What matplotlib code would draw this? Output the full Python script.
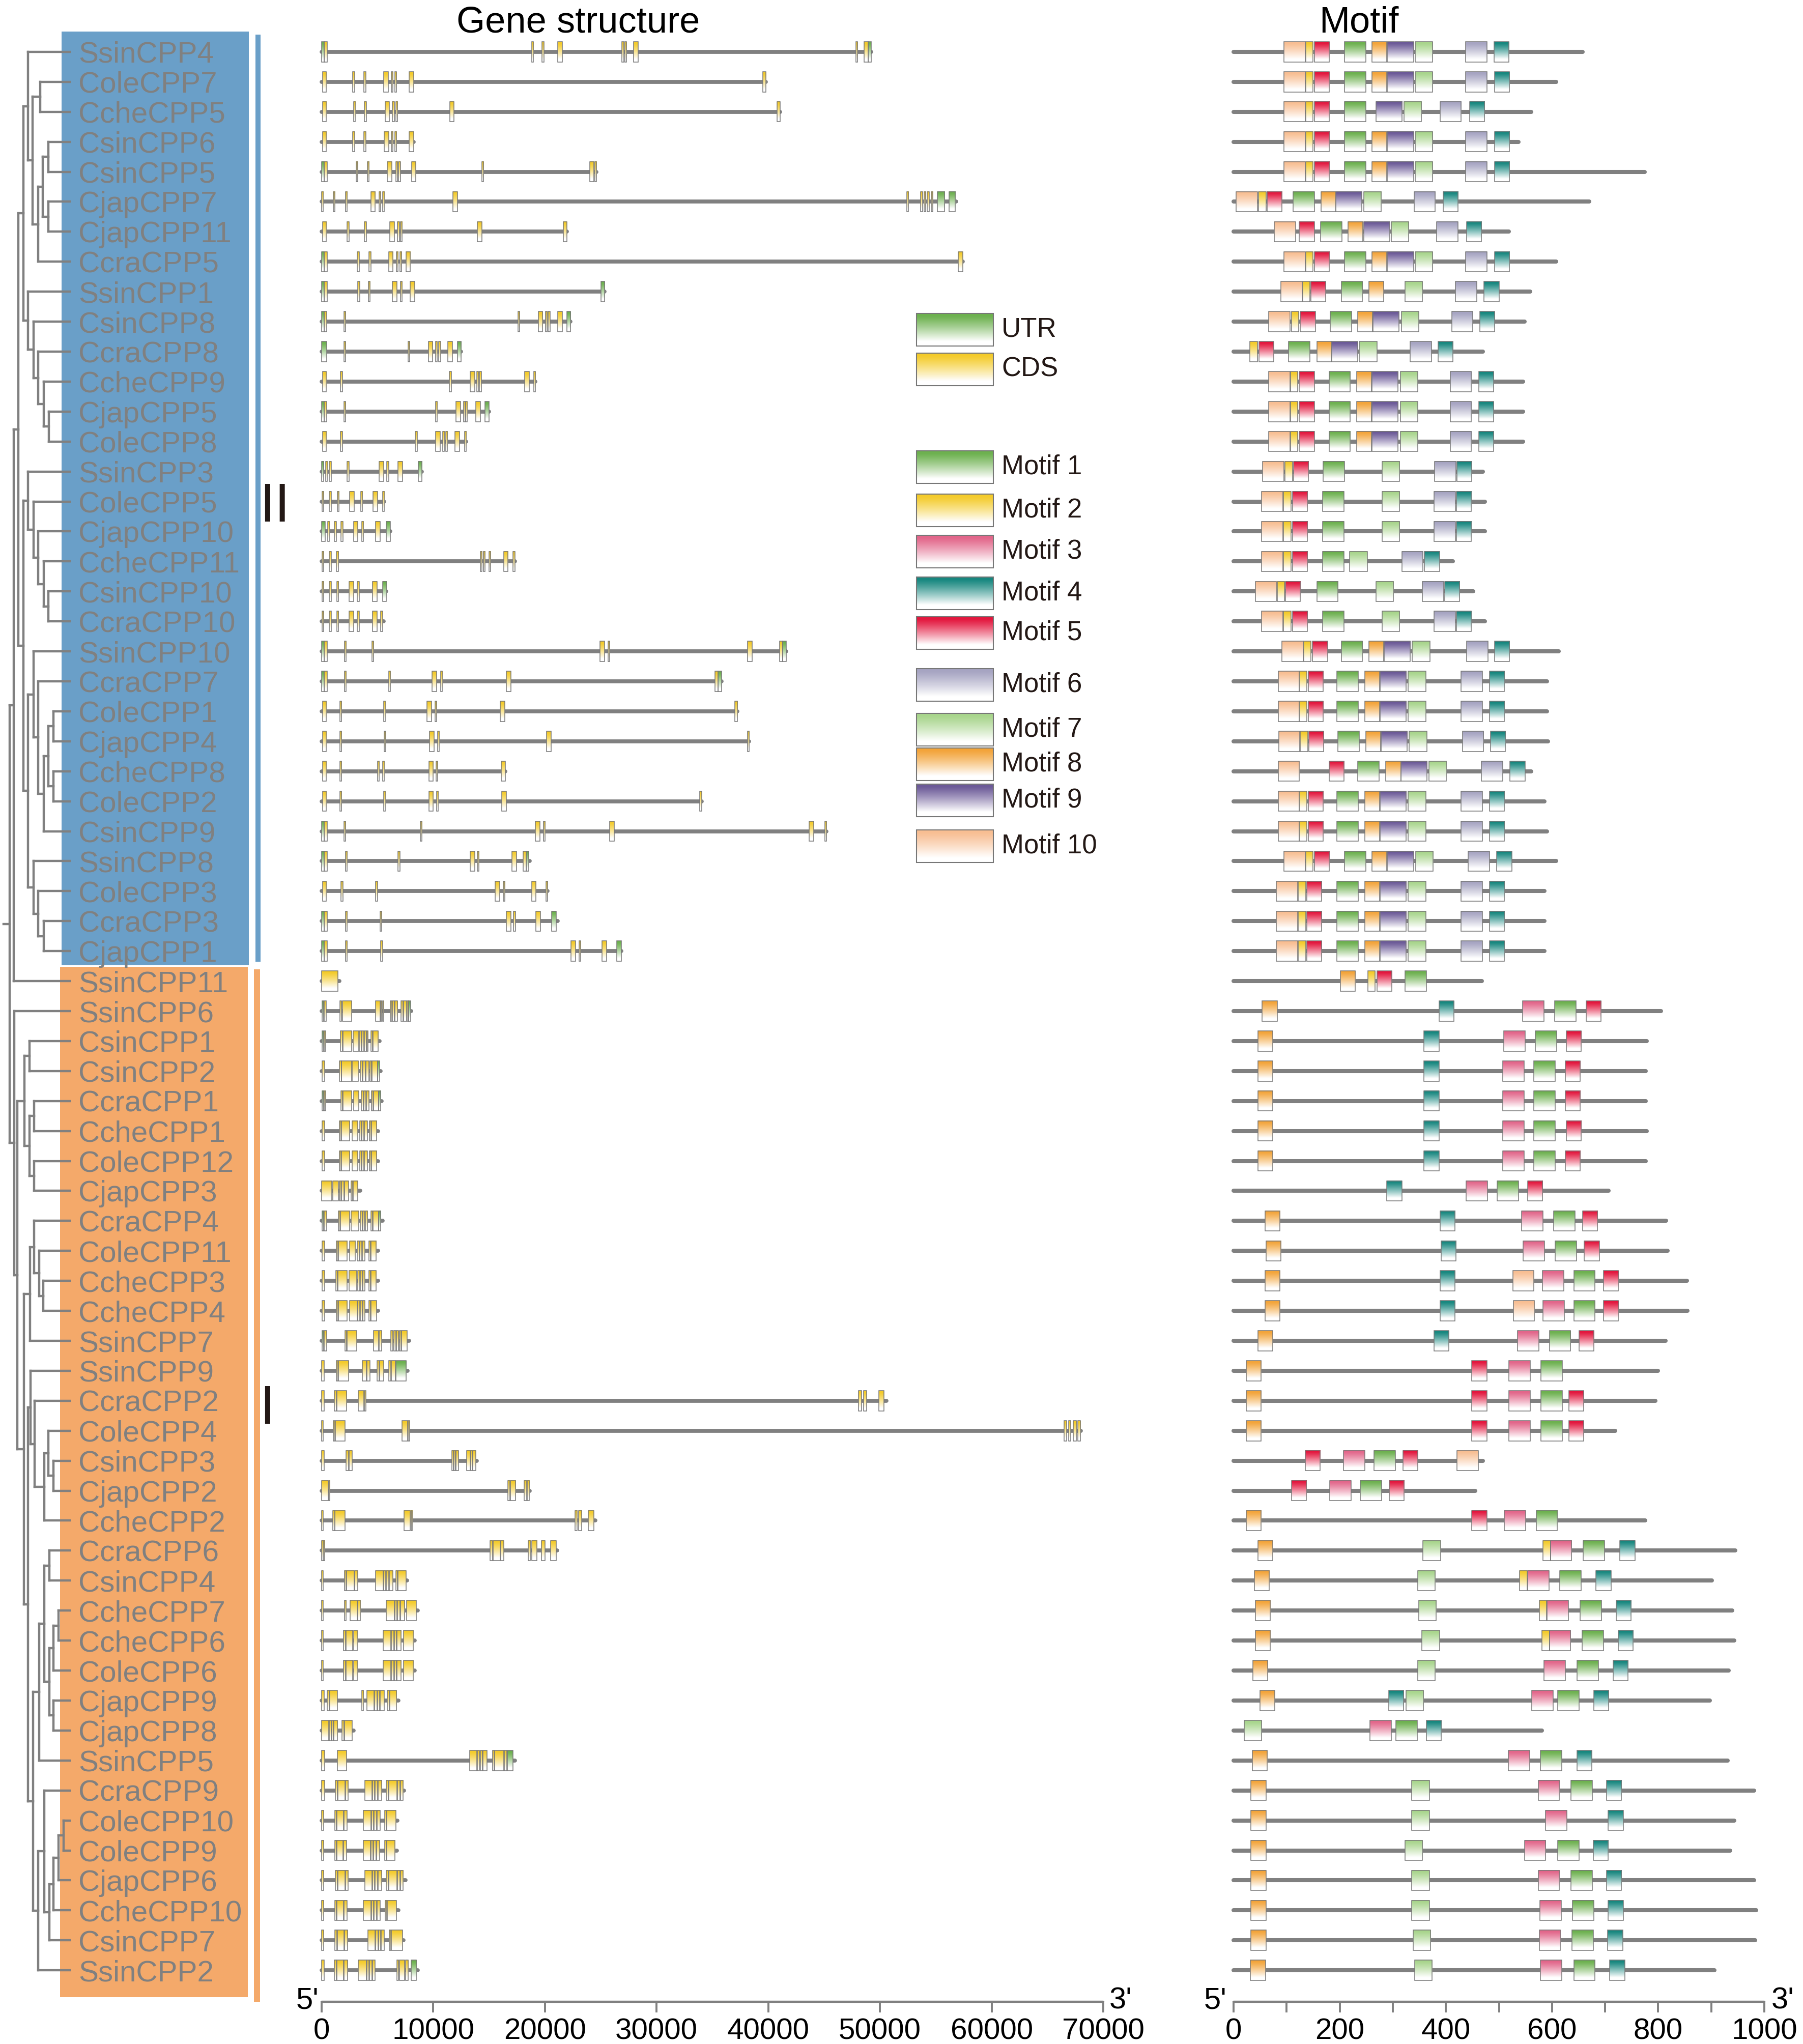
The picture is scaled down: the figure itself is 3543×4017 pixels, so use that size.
import numpy as np
import matplotlib
matplotlib.use("Agg")
import matplotlib.pyplot as plt
from matplotlib.patches import Rectangle
from matplotlib.collections import LineCollection
from matplotlib.colors import to_rgb
from matplotlib.ticker import MultipleLocator, FixedLocator

plt.rcParams['font.family'] = ['Liberation Sans', 'DejaVu Sans']

# ------------------------------------------------------------------ data
GENES = ["SsinCPP4", "ColeCPP7", "CcheCPP5", "CsinCPP6", "CsinCPP5", "CjapCPP7", "CjapCPP11",
         "CcraCPP5", "SsinCPP1", "CsinCPP8", "CcraCPP8", "CcheCPP9", "CjapCPP5", "ColeCPP8",
         "SsinCPP3", "ColeCPP5", "CjapCPP10", "CcheCPP11", "CsinCPP10", "CcraCPP10", "SsinCPP10",
         "CcraCPP7", "ColeCPP1", "CjapCPP4", "CcheCPP8", "ColeCPP2", "CsinCPP9", "SsinCPP8",
         "ColeCPP3", "CcraCPP3", "CjapCPP1",
         "SsinCPP11", "SsinCPP6", "CsinCPP1", "CsinCPP2", "CcraCPP1", "CcheCPP1", "ColeCPP12",
         "CjapCPP3", "CcraCPP4", "ColeCPP11", "CcheCPP3", "CcheCPP4", "SsinCPP7", "SsinCPP9",
         "CcraCPP2", "ColeCPP4", "CsinCPP3", "CjapCPP2", "CcheCPP2", "CcraCPP6", "CsinCPP4",
         "CcheCPP7", "CcheCPP6", "ColeCPP6", "CjapCPP9", "CjapCPP8", "SsinCPP5", "CcraCPP9",
         "ColeCPP10", "ColeCPP9", "CjapCPP6", "CcheCPP10", "CsinCPP7", "SsinCPP2"]
N_CLADE_II = 31
CLADE_LABELS = ["II", "I"]

# tree pieces: numbers after ')' are the horizontal positions of internal nodes
T_A = "(SsinCPP4,((ColeCPP7,CcheCPP5)79,(((CsinCPP6,CsinCPP5)95,(CjapCPP7,CjapCPP11)95)84,CcraCPP5)75)64)55"
T_B = "(SsinCPP1,(CsinCPP8,(CcraCPP8,(CcheCPP9,(CjapCPP5,ColeCPP8)96)86)75)66)55"
T_C = "(SsinCPP3,(ColeCPP5,(CjapCPP10,(CcheCPP11,(CsinCPP10,CcraCPP10)95)86)75)66)55"
T_D1 = "(SsinCPP10,(CcraCPP7,(((ColeCPP1,CjapCPP4)105,(CcheCPP8,ColeCPP2)105)95,CsinCPP9)86)75)66"
T_D2 = "(SsinCPP8,(ColeCPP3,(CcraCPP3,CjapCPP1)86)75)66"
T_Z1 = "((CsinCPP1,CsinCPP2)58,((CcraCPP1,CcheCPP1)67,(ColeCPP12,CjapCPP3)67)58)48"
T_E = "((CcraCPP4,(ColeCPP11,(CcheCPP3,CcheCPP4)85)77)67,SsinCPP7)59"
T_W1 = "(SsinCPP9,(CcraCPP2,((ColeCPP4,(CsinCPP3,CjapCPP2)105)95,CcheCPP2)87)68)60"
T_W2A = "(((CcraCPP6,CsinCPP4)97,(((CcheCPP7,CcheCPP6)115,ColeCPP6)105,(CjapCPP9,CjapCPP8)105)97)87,SsinCPP5)77"
T_W2B = "((CcraCPP9,((((ColeCPP10,ColeCPP9)125,CjapCPP6)115,CcheCPP10)105,CsinCPP7)97)87,SsinCPP2)75"
T_II = "((" + T_A + "," + T_B + ")46,(" + T_C + ",(" + T_D1 + "," + T_D2 + ")55)46)36"
T_I = ("(SsinCPP6,(" + T_Z1 + ",(" + T_E + ",(" + T_W1 + ",(" + T_W2A + "," + T_W2B + ")65)55)47)34)28")
TREE = "((" + T_II + ",SsinCPP11)27," + T_I + ")19"
TREE_LEAF_X = 137
TREE_ROOT_STUB = 7

GENE_LEN = [49200, 39800, 41050, 8250, 24600, 56850, 21950, 57400, 25350, 22300, 12500, 19150, 15000,
            12950, 9000, 5600, 6150, 17300, 5800, 5550, 41600, 35800, 37250, 38300, 16450, 34050, 45200,
            18650, 20250, 21150, 26850,
            1600, 8000, 5200, 5300, 5400, 5050, 5050, 3450, 5450, 5050, 5050, 5050, 7850, 7700, 50600,
            68000, 13900, 18650, 24500, 21100, 7650, 8600, 8350, 8350, 6900, 2850, 17300, 7400, 6800,
            6750, 7500, 6900, 7350, 8600]

EXONS = [
    [(0, 250, 'U'), (250, 520, 'C'), (18800, 18950, 'C'), (19750, 19900, 'C'), (21150, 21550, 'C'), (26900, 27050, 'C'), (27150, 27300, 'C'), (27950, 28350, 'C'), (47850, 48000, 'C'), (48600, 48950, 'C'), (48950, 49200, 'U')],
    [(80, 400, 'C'), (2800, 2950, 'C'), (3800, 3950, 'C'), (5550, 5950, 'C'), (6250, 6400, 'C'), (6550, 6700, 'C'), (7850, 8250, 'C'), (39500, 39800, 'C')],
    [(80, 400, 'C'), (2850, 3000, 'C'), (3850, 4000, 'C'), (5700, 6050, 'C'), (6350, 6500, 'C'), (6650, 6800, 'C'), (11500, 11850, 'C'), (40800, 41050, 'C')],
    [(80, 400, 'C'), (2800, 2950, 'C'), (3800, 3950, 'C'), (5600, 6000, 'C'), (6250, 6400, 'C'), (6550, 6700, 'C'), (7850, 8250, 'C')],
    [(0, 250, 'U'), (250, 520, 'C'), (3100, 3250, 'C'), (4100, 4250, 'C'), (5900, 6300, 'C'), (6650, 6800, 'C'), (6900, 7050, 'C'), (8050, 8450, 'C'), (14350, 14500, 'C'), (24000, 24400, 'C'), (24450, 24600, 'C')],
    [(0, 150, 'C'), (1050, 1200, 'C'), (2150, 2300, 'C'), (4400, 4800, 'C'), (5150, 5300, 'C'), (5450, 5600, 'C'), (11750, 12150, 'C'), (52400, 52550, 'C'), (53650, 53800, 'C'), (53950, 54100, 'C'), (54250, 54400, 'C'), (54600, 54750, 'C'), (55150, 55800, 'U'), (56200, 56750, 'U')],
    [(80, 400, 'C'), (2300, 2450, 'C'), (3850, 4000, 'C'), (6100, 6500, 'C'), (6800, 6950, 'C'), (7050, 7200, 'C'), (13950, 14350, 'C'), (21650, 21950, 'C')],
    [(0, 250, 'U'), (250, 520, 'C'), (3200, 3350, 'C'), (4250, 4400, 'C'), (6000, 6400, 'C'), (6700, 6850, 'C'), (7000, 7150, 'C'), (7550, 7950, 'C'), (57000, 57400, 'C')],
    [(0, 250, 'U'), (250, 520, 'C'), (3250, 3400, 'C'), (4200, 4350, 'C'), (6350, 6750, 'C'), (7050, 7200, 'C'), (7950, 8350, 'C'), (25000, 25350, 'U')],
    [(0, 250, 'U'), (250, 450, 'C'), (2000, 2150, 'C'), (17600, 17750, 'C'), (19400, 19800, 'C'), (20050, 20200, 'C'), (20300, 20450, 'C'), (21150, 21550, 'C'), (21950, 22300, 'U')],
    [(0, 450, 'U'), (2000, 2150, 'C'), (7750, 7900, 'C'), (9550, 9950, 'C'), (10200, 10350, 'C'), (10500, 10650, 'C'), (11300, 11700, 'C'), (12150, 12500, 'U')],
    [(80, 400, 'C'), (1700, 1850, 'C'), (11450, 11600, 'C'), (13300, 13700, 'C'), (13900, 14050, 'C'), (14150, 14300, 'C'), (18200, 18600, 'C'), (19000, 19150, 'C')],
    [(0, 250, 'U'), (250, 450, 'C'), (2000, 2150, 'C'), (10200, 10350, 'C'), (12050, 12450, 'C'), (12700, 12850, 'C'), (12900, 13050, 'C'), (13800, 14200, 'C'), (14650, 15000, 'U')],
    [(80, 400, 'C'), (1700, 1850, 'C'), (8400, 8550, 'C'), (10200, 10600, 'C'), (10850, 11000, 'C'), (11100, 11250, 'C'), (11950, 12350, 'C'), (12800, 12950, 'C')],
    [(0, 200, 'U'), (350, 500, 'C'), (700, 850, 'C'), (2300, 2450, 'C'), (5150, 5550, 'C'), (5850, 6000, 'C'), (6850, 7250, 'C'), (8650, 9000, 'U')],
    [(50, 200, 'C'), (700, 850, 'C'), (1400, 1550, 'C'), (2500, 2900, 'C'), (3500, 3650, 'C'), (4600, 5000, 'C'), (5450, 5600, 'C')],
    [(0, 300, 'U'), (550, 700, 'C'), (1150, 1300, 'C'), (1750, 1900, 'C'), (2850, 3250, 'C'), (3600, 3750, 'C'), (4850, 5250, 'C'), (5800, 6150, 'U')],
    [(50, 200, 'C'), (700, 850, 'C'), (1300, 1500, 'C'), (14200, 14350, 'C'), (14500, 14650, 'C'), (15000, 15150, 'C'), (16300, 16700, 'C'), (17150, 17300, 'C')],
    [(50, 200, 'C'), (700, 850, 'C'), (1350, 1500, 'C'), (2450, 2850, 'C'), (3200, 3350, 'C'), (4550, 4950, 'C'), (5450, 5800, 'U')],
    [(50, 200, 'C'), (700, 850, 'C'), (1350, 1500, 'C'), (2450, 2850, 'C'), (3200, 3350, 'C'), (4550, 4950, 'C'), (5300, 5450, 'C')],
    [(0, 250, 'U'), (250, 520, 'C'), (2050, 2200, 'C'), (4500, 4650, 'C'), (24950, 25350, 'C'), (25650, 25800, 'C'), (38150, 38550, 'C'), (41000, 41300, 'C'), (41300, 41600, 'U')],
    [(0, 250, 'U'), (250, 520, 'C'), (2050, 2200, 'C'), (6000, 6150, 'C'), (9900, 10300, 'C'), (10650, 10800, 'C'), (16550, 16950, 'C'), (35250, 35500, 'C'), (35500, 35800, 'U')],
    [(80, 400, 'C'), (1650, 1800, 'C'), (5550, 5700, 'C'), (9450, 9850, 'C'), (10150, 10300, 'C'), (16000, 16400, 'C'), (37000, 37250, 'C')],
    [(80, 400, 'C'), (1650, 1800, 'C'), (5600, 5750, 'C'), (9650, 10050, 'C'), (10400, 10550, 'C'), (20150, 20550, 'C'), (38150, 38300, 'C')],
    [(80, 400, 'C'), (1650, 1800, 'C'), (5000, 5150, 'C'), (5450, 5600, 'C'), (9600, 10000, 'C'), (10250, 10400, 'C'), (16100, 16450, 'C')],
    [(80, 400, 'C'), (1650, 1800, 'C'), (5550, 5700, 'C'), (9600, 10000, 'C'), (10300, 10450, 'C'), (16150, 16550, 'C'), (33850, 34050, 'C')],
    [(0, 250, 'U'), (250, 520, 'C'), (2000, 2150, 'C'), (8850, 9000, 'C'), (19150, 19550, 'C'), (19850, 20000, 'C'), (25800, 26200, 'C'), (43650, 44050, 'C'), (45050, 45200, 'C')],
    [(0, 250, 'U'), (250, 520, 'C'), (2150, 2300, 'C'), (6850, 7000, 'C'), (13300, 13700, 'C'), (13950, 14100, 'C'), (17050, 17450, 'C'), (18050, 18300, 'C'), (18300, 18550, 'U')],
    [(80, 400, 'C'), (1750, 1900, 'C'), (4850, 5000, 'C'), (15550, 15950, 'C'), (16250, 16400, 'C'), (18800, 19200, 'C'), (20100, 20250, 'C')],
    [(0, 250, 'U'), (250, 520, 'C'), (2150, 2300, 'C'), (5250, 5400, 'C'), (16550, 16950, 'C'), (17200, 17350, 'C'), (19200, 19600, 'C'), (20600, 21000, 'U')],
    [(0, 250, 'U'), (250, 520, 'C'), (2150, 2300, 'C'), (5300, 5450, 'C'), (22350, 22750, 'C'), (23050, 23200, 'C'), (25100, 25500, 'C'), (26450, 26850, 'U')],
    # clade I
    [(0, 1450, 'C')],
    [(50, 200, 'U'), (230, 400, 'C'), (1650, 1800, 'C'), (1850, 2700, 'C'), (4850, 5250, 'C'), (5300, 5400, 'C'), (5450, 5560, 'C'), (6150, 6300, 'C'), (6350, 6500, 'C'), (6550, 6800, 'C'), (7120, 7300, 'C'), (7350, 7600, 'C'), (7650, 7800, 'C'), (7800, 7980, 'U')],
    [(60, 200, 'U'), (230, 365, 'C'), (1700, 1850, 'C'), (1900, 2700, 'C'), (2840, 3330, 'C'), (3380, 3550, 'C'), (3600, 3780, 'C'), (3830, 4000, 'C'), (4050, 4160, 'C'), (4420, 4560, 'C'), (4600, 5070, 'C')],
    [(60, 270, 'C'), (1610, 1760, 'C'), (1800, 2690, 'C'), (2750, 3300, 'C'), (3480, 3650, 'C'), (3700, 3900, 'C'), (3950, 4240, 'C'), (4310, 4450, 'C'), (4500, 5000, 'C'), (5000, 5180, 'U')],
    [(60, 200, 'U'), (230, 365, 'C'), (1730, 1880, 'C'), (1920, 2690, 'C'), (2870, 3330, 'C'), (3560, 3720, 'C'), (3770, 3950, 'C'), (4000, 4240, 'C'), (4470, 4600, 'C'), (4650, 5100, 'C'), (5100, 5300, 'U')],
    [(60, 270, 'C'), (1580, 1720, 'C'), (1760, 2490, 'C'), (2720, 3250, 'C'), (3400, 3560, 'C'), (3610, 3800, 'C'), (3850, 4120, 'C'), (4280, 4420, 'C'), (4460, 4920, 'C')],
    [(60, 270, 'C'), (1580, 1720, 'C'), (1760, 2490, 'C'), (2720, 3250, 'C'), (3400, 3560, 'C'), (3610, 3800, 'C'), (3850, 4120, 'C'), (4280, 4420, 'C'), (4460, 4920, 'C')],
    [(15, 900, 'C'), (1020, 1500, 'C'), (1580, 1750, 'C'), (1800, 2000, 'C'), (2050, 2400, 'C'), (2640, 2780, 'C'), (2820, 3250, 'C')],
    [(60, 200, 'U'), (230, 440, 'C'), (1500, 1650, 'C'), (1700, 2490, 'C'), (2640, 3330, 'C'), (3480, 3640, 'C'), (3690, 3850, 'C'), (3900, 4090, 'C'), (4440, 4580, 'C'), (4620, 5100, 'C'), (5100, 5300, 'U')],
    [(60, 270, 'C'), (1310, 1450, 'C'), (1500, 2300, 'C'), (2490, 3020, 'C'), (3200, 3380, 'C'), (3430, 3600, 'C'), (3650, 3860, 'C'), (4240, 4380, 'C'), (4420, 4880, 'C')],
    [(60, 270, 'C'), (1280, 1420, 'C'), (1470, 2260, 'C'), (2450, 3140, 'C'), (3250, 3420, 'C'), (3470, 3650, 'C'), (3700, 3860, 'C'), (4240, 4380, 'C'), (4420, 4880, 'C')],
    [(60, 270, 'C'), (1330, 1470, 'C'), (1510, 2300, 'C'), (2490, 3200, 'C'), (3250, 3420, 'C'), (3470, 3650, 'C'), (3700, 3860, 'C'), (4240, 4380, 'C'), (4420, 4920, 'C')],
    [(60, 200, 'U'), (230, 440, 'C'), (2110, 2250, 'C'), (2300, 3140, 'C'), (4660, 5100, 'C'), (5150, 5380, 'C'), (6210, 6400, 'C'), (6450, 6650, 'C'), (6700, 6900, 'C'), (6950, 7100, 'C'), (7150, 7650, 'C')],
    [(15, 210, 'C'), (1300, 1450, 'C'), (1500, 2415, 'C'), (3630, 4000, 'C'), (4050, 4310, 'C'), (4970, 5150, 'C'), (5200, 5570, 'C'), (6030, 6200, 'C'), (6250, 6600, 'C'), (6650, 7580, 'U')],
    [(15, 210, 'C'), (1150, 1300, 'C'), (1350, 2220, 'C'), (3300, 3800, 'C'), (3850, 3980, 'C'), (48100, 48350, 'C'), (48550, 48800, 'C'), (49900, 50350, 'C')],
    [(15, 150, 'C'), (1050, 1200, 'C'), (1250, 2110, 'C'), (7200, 7700, 'C'), (7750, 7880, 'C'), (66500, 66700, 'C'), (66900, 67100, 'C'), (67300, 67600, 'C'), (67700, 67950, 'C')],
    [(15, 210, 'C'), (2190, 2400, 'C'), (2450, 2720, 'C'), (11650, 11800, 'C'), (11850, 12000, 'C'), (12050, 12260, 'C'), (12970, 13300, 'C'), (13350, 13500, 'C'), (13550, 13810, 'C')],
    [(15, 600, 'C'), (620, 745, 'C'), (16700, 16850, 'C'), (16900, 17380, 'C'), (18150, 18350, 'C'), (18400, 18600, 'C')],
    [(15, 150, 'C'), (1020, 1170, 'C'), (1200, 2110, 'C'), (7400, 7950, 'C'), (8000, 8110, 'C'), (22700, 22900, 'C'), (23000, 23300, 'C'), (23900, 24400, 'C')],
    [(15, 120, 'C'), (150, 290, 'C'), (15100, 15300, 'C'), (15350, 16000, 'C'), (16050, 16310, 'C'), (18500, 18700, 'C'), (18800, 19300, 'C'), (19700, 20000, 'C'), (20500, 21000, 'C')],
    [(15, 150, 'C'), (2035, 2200, 'C'), (2250, 2900, 'C'), (2950, 3250, 'C'), (4815, 5500, 'C'), (5550, 5750, 'C'), (5800, 6000, 'C'), (6050, 6365, 'C'), (6640, 6800, 'C'), (6850, 7550, 'C')],
    [(15, 150, 'C'), (2030, 2180, 'C'), (2540, 3200, 'C'), (3250, 3480, 'C'), (5790, 6500, 'C'), (6550, 6750, 'C'), (6800, 7000, 'C'), (7050, 7430, 'C'), (7625, 8490, 'C')],
    [(15, 150, 'C'), (1960, 2120, 'C'), (2170, 2800, 'C'), (2850, 3200, 'C'), (5500, 6200, 'C'), (6250, 6450, 'C'), (6500, 6700, 'C'), (6750, 7120, 'C'), (7320, 8190, 'C')],
    [(15, 150, 'C'), (1960, 2120, 'C'), (2170, 2800, 'C'), (2850, 3200, 'C'), (5500, 6200, 'C'), (6250, 6450, 'C'), (6500, 6700, 'C'), (6750, 7120, 'C'), (7320, 8190, 'C')],
    [(15, 210, 'C'), (515, 700, 'C'), (750, 1430, 'C'), (3600, 3750, 'C'), (4055, 4700, 'C'), (4750, 4950, 'C'), (5000, 5200, 'C'), (5250, 5605, 'C'), (5880, 6050, 'C'), (6100, 6700, 'C')],
    [(15, 650, 'C'), (700, 850, 'C'), (900, 1050, 'C'), (1100, 1430, 'C'), (1840, 2000, 'C'), (2050, 2720, 'C')],
    [(15, 260, 'C'), (1430, 2230, 'C'), (13280, 13900, 'C'), (13950, 14150, 'C'), (14200, 14400, 'C'), (14450, 14800, 'C'), (15300, 15450, 'C'), (15500, 16300, 'C'), (16350, 16600, 'C'), (16650, 17150, 'U')],
    [(15, 260, 'C'), (1245, 1400, 'C'), (1450, 2100, 'C'), (2150, 2385, 'C'), (3860, 4500, 'C'), (4550, 4750, 'C'), (4800, 5000, 'C'), (5050, 5380, 'C'), (5790, 5950, 'C'), (6000, 6750, 'C'), (6800, 7000, 'C'), (7050, 7280, 'C')],
    [(15, 200, 'C'), (1170, 1320, 'C'), (1370, 1950, 'C'), (2000, 2260, 'C'), (3750, 4400, 'C'), (4450, 4650, 'C'), (4700, 4900, 'C'), (4950, 5220, 'C'), (5650, 5800, 'C'), (5850, 6670, 'C')],
    [(15, 200, 'C'), (1170, 1320, 'C'), (1370, 1920, 'C'), (1970, 2230, 'C'), (3730, 4380, 'C'), (4430, 4620, 'C'), (4670, 4870, 'C'), (4920, 5190, 'C'), (5650, 5800, 'C'), (5850, 6580, 'C')],
    [(15, 200, 'C'), (1245, 1400, 'C'), (1450, 2100, 'C'), (2150, 2385, 'C'), (3860, 4500, 'C'), (4550, 4750, 'C'), (4800, 5000, 'C'), (5050, 5380, 'C'), (5790, 5950, 'C'), (6000, 6750, 'C'), (6800, 7000, 'C'), (7050, 7300, 'C')],
    [(15, 200, 'C'), (1170, 1320, 'C'), (1370, 1950, 'C'), (2000, 2260, 'C'), (3750, 4400, 'C'), (4450, 4650, 'C'), (4700, 4900, 'C'), (4950, 5220, 'C'), (5680, 5830, 'C'), (5880, 6700, 'C')],
    [(15, 200, 'C'), (1200, 1350, 'C'), (1400, 2000, 'C'), (2050, 2340, 'C'), (4130, 4800, 'C'), (4850, 5050, 'C'), (5100, 5300, 'C'), (5350, 5600, 'C'), (6060, 6200, 'C'), (6250, 7250, 'C')],
    [(15, 210, 'C'), (1125, 1300, 'C'), (1350, 1950, 'C'), (2000, 2340, 'C'), (3300, 4000, 'C'), (4050, 4250, 'C'), (4300, 4500, 'C'), (4550, 4770, 'C'), (6740, 6900, 'C'), (6950, 7450, 'C'), (7500, 7730, 'C'), (8000, 8490, 'U')],
]

PROT_LEN = [658, 608, 561, 537, 775, 670, 519, 608, 559, 548, 470, 546, 546, 546, 470, 474, 474, 413,
            452, 474, 613, 591, 591, 593, 561, 586, 591, 608, 586, 586, 586,
            468, 805, 779, 777, 777, 779, 777, 707, 815, 818, 854, 855, 814, 800, 795, 719, 470, 455,
            776, 945, 901, 940, 943, 933, 897, 581, 931, 981, 943, 936, 981, 985, 983, 906]

MOTIFS = [
    [(10, 95), (2, 136), (5, 152), (1, 209), (8, 261), (9, 290), (7, 342), (6, 437), (4, 491)],
    [(10, 95), (2, 136), (5, 152), (1, 209), (8, 261), (9, 290), (7, 342), (6, 437), (4, 492)],
    [(10, 95), (2, 136), (5, 152), (1, 209), (9, 268), (7, 321), (6, 389), (4, 445)],
    [(10, 95), (2, 136), (5, 152), (1, 209), (8, 261), (9, 290), (7, 342), (6, 437), (4, 492)],
    [(10, 95), (2, 136), (5, 152), (1, 209), (8, 261), (9, 290), (7, 342), (6, 437), (4, 492)],
    [(10, 5), (2, 47), (5, 63), (1, 112), (8, 165), (9, 193), (7, 245), (6, 340), (4, 395)],
    [(10, 77), (5, 124), (1, 164), (8, 216), (9, 245), (7, 297), (6, 383), (4, 439)],
    [(10, 95), (2, 136), (5, 152), (1, 209), (8, 261), (9, 290), (7, 342), (6, 437), (4, 492)],
    [(10, 89), (2, 130), (5, 146), (1, 203), (8, 255), (7, 323), (6, 418), (4, 472)],
    [(10, 66), (2, 109), (5, 126), (1, 182), (8, 234), (9, 263), (7, 316), (6, 411), (4, 464)],
    [(2, 31), (5, 48), (1, 104), (8, 157), (9, 185), (7, 237), (6, 333), (4, 385)],
    [(10, 66), (2, 107), (5, 124), (1, 180), (8, 232), (9, 261), (7, 314), (6, 408), (4, 462)],
    [(10, 66), (2, 107), (5, 124), (1, 180), (8, 232), (9, 261), (7, 314), (6, 408), (4, 462)],
    [(10, 66), (2, 107), (5, 124), (1, 180), (8, 232), (9, 261), (7, 314), (6, 408), (4, 462)],
    [(10, 55), (2, 97), (5, 113), (1, 169), (7, 280), (6, 379), (4, 421)],
    [(10, 53), (2, 94), (5, 111), (1, 168), (7, 280), (6, 378), (4, 420)],
    [(10, 53), (2, 94), (5, 111), (1, 168), (7, 280), (6, 378), (4, 420)],
    [(10, 53), (2, 94), (5, 111), (1, 168), (7, 219), (6, 317), (4, 360)],
    [(10, 41), (2, 82), (5, 98), (1, 157), (7, 268), (6, 356), (4, 398)],
    [(10, 53), (2, 94), (5, 111), (1, 168), (7, 280), (6, 378), (4, 420)],
    [(10, 91), (2, 132), (5, 149), (1, 203), (8, 255), (9, 284), (7, 337), (6, 439), (4, 492)],
    [(10, 84), (2, 124), (5, 141), (1, 195), (8, 247), (9, 276), (7, 329), (6, 429), (4, 482)],
    [(10, 84), (2, 124), (5, 141), (1, 195), (8, 247), (9, 276), (7, 329), (6, 429), (4, 482)],
    [(10, 85), (2, 126), (5, 142), (1, 197), (8, 249), (9, 278), (7, 331), (6, 431), (4, 484)],
    [(10, 84), (5, 180), (1, 234), (8, 287), (9, 315), (7, 368), (6, 467), (4, 521)],
    [(10, 84), (2, 124), (5, 141), (1, 195), (8, 247), (9, 276), (7, 329), (6, 429), (4, 482)],
    [(10, 84), (2, 124), (5, 141), (1, 195), (8, 247), (9, 276), (7, 329), (6, 429), (4, 482)],
    [(10, 95), (2, 136), (5, 152), (1, 209), (8, 261), (9, 290), (7, 343), (6, 442), (4, 496)],
    [(10, 81), (2, 122), (5, 138), (1, 195), (8, 247), (9, 276), (7, 329), (6, 429), (4, 482)],
    [(10, 81), (2, 122), (5, 138), (1, 195), (8, 247), (9, 276), (7, 329), (6, 429), (4, 482)],
    [(10, 81), (2, 122), (5, 138), (1, 195), (8, 247), (9, 276), (7, 329), (6, 429), (4, 482)],
    # clade I
    [(8, 201), (2, 253), (5, 270), (1, 323)],
    [(8, 54), (4, 387), (3, 545), (1, 605), (5, 664)],
    [(8, 46), (4, 359), (3, 509), (1, 569), (5, 627)],
    [(8, 46), (4, 359), (3, 507), (1, 566), (5, 625)],
    [(8, 46), (4, 359), (3, 507), (1, 566), (5, 625)],
    [(8, 46), (4, 359), (3, 507), (1, 566), (5, 627)],
    [(8, 46), (4, 359), (3, 507), (1, 566), (5, 625)],
    [(4, 289), (3, 438), (1, 497), (5, 554)],
    [(8, 59), (4, 389), (3, 543), (1, 603), (5, 658)],
    [(8, 61), (4, 391), (3, 546), (1, 606), (5, 661)],
    [(8, 59), (4, 389), (10, 526), (3, 582), (1, 641), (5, 697)],
    [(8, 59), (4, 389), (10, 527), (3, 583), (1, 641), (5, 697)],
    [(8, 46), (4, 378), (3, 535), (1, 595), (5, 651)],
    [(8, 24), (5, 449), (3, 519), (1, 579)],
    [(8, 24), (5, 449), (3, 519), (1, 579), (5, 632)],
    [(8, 24), (5, 449), (3, 519), (1, 579), (5, 632)],
    [(5, 135), (3, 207), (1, 265), (5, 319), (10, 421)],
    [(5, 109), (3, 181), (1, 239), (5, 293)],
    [(8, 24), (5, 449), (3, 510), (1, 570)],
    [(8, 46), (7, 357), (2, 583), (3, 597), (1, 659), (4, 728)],
    [(8, 39), (7, 347), (2, 539), (3, 554), (1, 615), (4, 683)],
    [(8, 41), (7, 349), (2, 576), (3, 591), (1, 653), (4, 721)],
    [(8, 41), (7, 355), (2, 581), (3, 595), (1, 657), (4, 725)],
    [(8, 36), (7, 347), (3, 585), (1, 647), (4, 715)],
    [(8, 50), (4, 292), (7, 325), (3, 562), (1, 611), (4, 679)],
    [(7, 20), (3, 257), (1, 306), (4, 363)],
    [(8, 35), (3, 518), (1, 578), (4, 647)],
    [(8, 33), (7, 336), (3, 574), (1, 636), (4, 703)],
    [(8, 33), (7, 336), (3, 588), (4, 706)],
    [(8, 33), (7, 323), (3, 548), (1, 611), (4, 678)],
    [(8, 33), (7, 336), (3, 574), (1, 636), (4, 703)],
    [(8, 33), (7, 336), (3, 577), (1, 639), (4, 706)],
    [(8, 33), (7, 338), (3, 576), (1, 638), (4, 705)],
    [(8, 32), (7, 341), (3, 578), (1, 641), (4, 709)],
]

MOTIF_WIDTH = [40, 14, 40, 28, 28, 40, 33, 28, 49, 40]          # Motif 1..10, aa
MOTIF_COLORS = ['#6DB14F', '#F4CB2B', '#E2668A', '#17877F', '#E3173E',
                '#A6A4C2', '#A8D58C', '#F3A43A', '#6C5A98', '#F8BE92']
MOTIF_NAMES = ["Motif %d" % k for k in range(1, 11)]
FEATURE_NAMES = ["UTR", "CDS"]
FEATURE_COLORS = {'U': '#6DB14F', 'C': '#F4CB2B'}
GENE_TICKS = [0, 10000, 20000, 30000, 40000, 50000, 60000, 70000]
MOTIF_TICKS = [0, 200, 400, 600, 800, 1000]

# ------------------------------------------------------------------ style / layout
FW, FH = 3543, 4017
GRAY = '#808080'
EDGE = '#777777'
BLUE = '#6A9FC8'
ORANGE = '#F4A96A'
ROW_TOP_PX, ROW_BOT_PX = 43, 3934          # axes vertical extent in pixels
Y_LIM = (65.05, -1)

fig = plt.figure(figsize=(FW / 100, FH / 100), dpi=100)


def px_axes(x0, x1):
    return [x0 / FW, (FH - ROW_BOT_PX) / FH, (x1 - x0) / FW, (ROW_BOT_PX - ROW_TOP_PX) / FH]


over = fig.add_axes([0, 0, 1, 1])
over.set_xlim(0, FW)
over.set_ylim(FH, 0)
over.axis('off')

_gcache = {}


def grad(color):
    if color not in _gcache:
        c = np.array(to_rgb(color))
        t = np.linspace(0, 1, 48)
        w = np.clip((t - 0.06) / 0.80, 0, 1) ** 1.15
        rgb = c[None, :] * (1 - w[:, None]) + w[:, None]
        _gcache[color] = np.repeat(rgb[:, None, :], 2, axis=1)
    return _gcache[color]


def gbox(ax, x0, x1, yc, h, color, lw=1.1, z=3):
    ax.imshow(grad(color), extent=(x0, x1, yc + h / 2, yc - h / 2), aspect='auto',
              interpolation='bilinear', zorder=z, clip_on=False)
    ax.add_patch(Rectangle((x0, yc - h / 2), x1 - x0, h, fill=False, ec=EDGE, lw=lw,
                           zorder=z + 0.1, clip_on=False))


# ------------------------------------------------------------------ tree + labels
axt = fig.add_axes(px_axes(0, 600))
axt.set_xlim(0, 600)
axt.set_ylim(*Y_LIM)
axt.axis('off')


def parse(s):
    pos = 0

    def node():
        nonlocal pos
        if s[pos] == '(':
            pos += 1
            ch = [node()]
            while s[pos] == ',':
                pos += 1
                ch.append(node())
            pos += 1
            num = ''
            while pos < len(s) and (s[pos].isdigit() or s[pos] == '.'):
                num += s[pos]
                pos += 1
            return {'x': float(num), 'children': ch}
        name = ''
        while pos < len(s) and s[pos] not in ',()':
            name += s[pos]
            pos += 1
        return {'name': name}
    return node()


root = parse(TREE)
yidx = {g: i for i, g in enumerate(GENES)}


def layout(n):
    if 'name' in n:
        n['y'] = yidx[n['name']]
        n['x'] = TREE_LEAF_X
        return
    for c in n['children']:
        layout(c)
    n['y'] = (n['children'][0]['y'] + n['children'][-1]['y']) / 2


layout(root)
segs = []


def collect(n):
    if 'children' in n:
        ys = [c['y'] for c in n['children']]
        segs.append([(n['x'], min(ys)), (n['x'], max(ys))])
        for c in n['children']:
            segs.append([(n['x'], c['y']), (c['x'], c['y'])])
            collect(c)


collect(root)
segs.append([(TREE_ROOT_STUB, root['y']), (root['x'], root['y'])])

n_all = len(GENES)
axt.add_patch(Rectangle((121, -0.68), 368, N_CLADE_II - 0.5 + 0.68 - 0.03, color=BLUE, lw=0, zorder=1))
axt.add_patch(Rectangle((118, N_CLADE_II - 0.5 + 0.02), 369, n_all - N_CLADE_II + 0.4 - 0.02,
                        color=ORANGE, lw=0, zorder=1))
axt.add_patch(Rectangle((502, -0.58), 10, N_CLADE_II - 0.5 + 0.58 - 0.14, color=BLUE, lw=0, zorder=1))
axt.add_patch(Rectangle((499, N_CLADE_II - 0.5 + 0.1), 12, n_all - N_CLADE_II + 0.5 - 0.1 + 0.1,
                        color=ORANGE, lw=0, zorder=1))
axt.add_collection(LineCollection(segs, colors=GRAY, linewidths=3.2, capstyle='projecting', zorder=3))
for i, g in enumerate(GENES):
    axt.text(154, i, g, color=GRAY, fontsize=42, ha='left', va='center_baseline', zorder=4)
axt.text(540, (N_CLADE_II - 1) / 2, CLADE_LABELS[0], color='#231815', fontsize=77,
         ha='center', va='center_baseline', zorder=4)
axt.text(525, 45.1, CLADE_LABELS[1], color='#231815', fontsize=77,
         ha='center', va='center_baseline', zorder=4)

# ------------------------------------------------------------------ gene structure
axg = fig.add_axes(px_axes(632, 2168))
EXON_H = 0.67
for i in range(n_all):
    axg.plot([0, GENE_LEN[i]], [i, i], color=GRAY, lw=5.6, solid_capstyle='round', zorder=1, clip_on=False)
    for (s, e, t) in EXONS[i]:
        gbox(axg, s, e, i, EXON_H, FEATURE_COLORS[t])

# ------------------------------------------------------------------ motifs
axm = fig.add_axes(px_axes(2424, 3467))
MOTIF_H = 0.67
for i in range(n_all):
    axm.plot([0, PROT_LEN[i]], [i, i], color=GRAY, lw=5.8, solid_capstyle='round', zorder=1, clip_on=False)
    for (m, s) in MOTIFS[i]:
        gbox(axm, s, s + MOTIF_WIDTH[m - 1], i, MOTIF_H, MOTIF_COLORS[m - 1])

for ax, lim, ticks, minor in ((axg, (0, 70000), GENE_TICKS, None), (axm, (0, 1000), MOTIF_TICKS, 100)):
    ax.set_xlim(*lim)
    ax.set_ylim(*Y_LIM)
    for sp in ('top', 'left', 'right'):
        ax.spines[sp].set_visible(False)
    ax.spines['bottom'].set_color(GRAY)
    ax.spines['bottom'].set_linewidth(3.2)
    ax.spines['bottom'].set_capstyle('round')
    ax.set_yticks([])
    ax.xaxis.set_major_locator(FixedLocator(ticks))
    if minor:
        ax.xaxis.set_minor_locator(MultipleLocator(minor))
    ax.tick_params(axis='x', which='both', direction='out', length=15, width=2.8, color=GRAY,
                   labelsize=42, labelcolor='black', pad=8)
    ax.patch.set_visible(False)

# ------------------------------------------------------------------ titles, 5'/3', legend
over.text(1136, 38, "Gene structure", fontsize=52, ha='center', va='center_baseline', color='black')
over.text(2670, 38, "Motif", fontsize=52, ha='center', va='center_baseline', color='black')
for x, s, ha in ((626, "5'", 'right'), (2180, "3'", 'left'), (2410, "5'", 'right'), (3481, "3'", 'left')):
    over.text(x, 3926, s, fontsize=43, ha=ha, va='center_baseline', color='black')

LEG_Y = [648, 726, 918, 1003, 1084, 1166, 1244, 1346, 1434, 1502, 1573, 1663]
leg_items = list(zip(FEATURE_NAMES, [FEATURE_COLORS['U'], FEATURE_COLORS['C']])) + list(zip(MOTIF_NAMES, MOTIF_COLORS))
for (name, col), yc in zip(leg_items, LEG_Y):
    gbox(over, 1801, 1952, yc, 64, col, lw=1.5)
    over.text(1968, yc - 6, name, fontsize=38, ha='left', va='center_baseline', color='#231815')
over.set_xlim(0, FW)
over.set_ylim(FH, 0)

fig.savefig("out.png", dpi=100)
